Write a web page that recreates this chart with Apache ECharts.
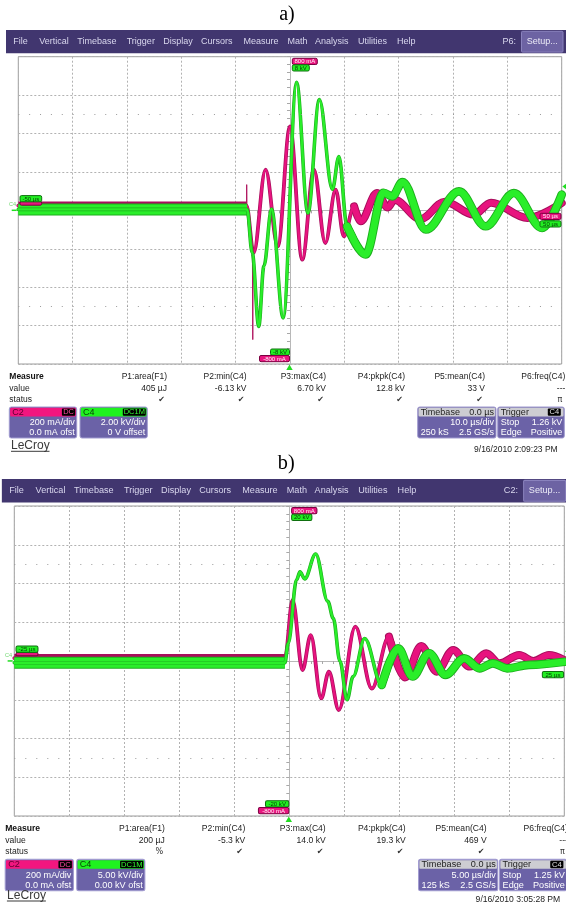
<!DOCTYPE html>
<html><head><meta charset="utf-8">
<script src="https://cdn.jsdelivr.net/npm/echarts/dist/echarts.min.js"></script>
<style>html,body{margin:0;padding:0;background:#fff}#c{width:566px;height:903px}</style>
</head><body><div id="c"></div>
<script>
// ---------------- DATA ----------------
// Panel a) : time in µs, C4 in kV, C2 in mA
const c4A = [[-50,0.05],[-30,0.05],[-7.9,0.05],[-6.96,-2.2],[-5.75,-6.04],[-4.8,-2.9],[-3.4,0.07],[-1.25,-5.6],[1.2,6.67],[3.3,-0.14],[5.4,5.77],[7.8,1.1],[9.0,2.8],[10.5,-0.83],[13.9,-2.3],[17.2,0.92],[18.8,0.73],[20.7,1.47],[25.0,-1.0],[31.1,0.99],[36.0,-0.83],[41.2,0.9],[46.4,-0.92],[50,0.82]];
const c2A = [[-50,25],[-30,25],[-8.0,25],[-6.7,-222],[-4.5,212],[-2.25,-187],[0,437],[2.25,-257],[4.4,212],[6.5,-170],[8.4,108],[9.9,-135],[11.8,21],[13.0,-57],[16.0,90],[18.0,15],[19.2,55],[24.0,-45],[28.5,45],[33.8,-22],[37.0,40],[43.7,-40],[50,38]];
const c2SpikesA = [[[-8.0,25],[-7.97,134],[-7.93,25]],[[-6.92,-200],[-6.85,-673],[-6.78,-210]]];
// Panel b)
const c4B = [[-25,-0.23],[-10,-0.23],[-0.4,-0.23],[-0.1,2.3],[0.67,10.5],[0.97,11.5],[1.4,10.6],[2.4,13.8],[3.5,7.7],[4.0,5.5],[4.6,0.0],[5.25,-5.0],[5.8,-2.0],[6.85,2.9],[8.4,-3.1],[9.9,1.64],[11.2,-2.0],[12.7,1.0],[14.2,-1.8],[15.9,0.35],[17.3,-0.95],[18.5,-0.3],[19.8,-0.95],[21.8,-0.5],[25,-0.1]];
const c2B = [[-25,15],[-10,15],[-0.4,15],[0.3,315],[1.2,-47],[1.95,134],[2.9,-193],[3.6,-55],[4.5,-253],[6.0,177],[7.5,-142],[9.06,126],[10.5,-85],[12.0,78],[13.4,-55],[14.9,57],[16.4,-29],[17.9,40],[19.1,-12],[20.9,31],[22.2,0],[23.6,31],[25,5]];

// Axis ranges (per division scales)
const timeA = {min:-50,max:50,interval:10};
const timeB = {min:-25,max:25,interval:5};
const voltA = {min:-8,max:8,interval:2};
const voltB = {min:-20,max:20,interval:5};
const curr  = {min:-800,max:800,interval:200};

// Texts
const menuItems = ['File','Vertical','Timebase','Trigger','Display','Cursors','Measure','Math','Analysis','Utilities','Help'];
const measureNames = ['P1:area(F1)','P2:min(C4)','P3:max(C4)','P4:pkpk(C4)','P5:mean(C4)','P6:freq(C4)'];
const valuesA = ['405 µJ','-6.13 kV','6.70 kV','12.8 kV','33 V','---'];
const statusA = ['✔','✔','✔','✔','✔','π'];
const valuesB = ['200 µJ','-5.3 kV','14.0 kV','19.3 kV','469 V','---'];
const statusB = ['%','✔','✔','✔','✔','π'];

// ---------------- LAYOUT / STYLE ----------------
const SANS = '"Liberation Sans", Arial, Helvetica, sans-serif';
const SERIF = '"Liberation Serif", "Times New Roman", serif';
const menuX = [13.3,39.3,77.3,126.7,163.3,201,243.5,287.5,315,358,397];
const colRight = [167,246.5,326,405,485,565.3];

function txt(x,y,s,o){o=o||{};const al=o.align||'left';
  return {type:'text',z:100,silent:true,style:{x:x,y:y,text:s,fill:o.fill||'#222',
    font:(o.weight?o.weight+' ':'')+(o.size||8.5)+'px '+(o.family||SANS),
    textAlign:al,align:al,textVerticalAlign:'middle',verticalAlign:'middle'}};}
function rect(x,y,w,h,fill,o){o=o||{};
  return {type:'rect',z:o.z||100,silent:true,shape:{x:x,y:y,width:w,height:h,r:o.r||0},style:{fill:fill,stroke:o.stroke||null,lineWidth:o.stroke?1:0}};}
function line(x1,y1,x2,y2,c,w){return {type:'line',z:100,silent:true,shape:{x1:x1,y1:y1,x2:x2,y2:y2},style:{stroke:c,lineWidth:w||1}};}
function poly(pts,fill){return {type:'polygon',z:100,silent:true,shape:{points:pts},style:{fill:fill}};}
function badge(E,x,y,w,s,kind,h){
  h=h||6.2;
  const g=kind==='g';
  E.push(rect(x,y,w,h,g?'#22ee22':'#e8157f',{stroke:g?'#0f6f0f':'#7a0040',r:1.5}));
  if(s) E.push(txt(x+w/2,y+h/2+0.3,s,{size:6,fill:g?'#064006':'#fff2f8',align:'center'}));
}
function box(E,x,w,head,rows){
  E.push(rect(x,407,w,31,'#6b62a7',{stroke:'#a19bd0',r:2}));
  E.push(rect(x+0.8,407.8,w-1.6,8.6,head.fill,{r:1.2}));
  E.push(txt(x+3,412.2,head.left,{size:9,fill:head.color}));
  if(head.badge){const b=head.badge;
    E.push(rect(x+w-b.w-b.m,408.4,b.w,7.4,'#000',{r:1}));
    E.push(txt(x+w-b.m-b.w/2,412.2,b.t,{size:7.5,fill:b.fill,align:'center'}));}
  if(head.right) E.push(txt(x+w-2,412.2,head.right,{size:9,fill:head.color,align:'right'}));
  rows.forEach(function(r,i){const y=423+i*9.8;
    if(r[0]) E.push(txt(x+3,y,r[0],{size:9,fill:'#ffffff'}));
    if(r[1]) E.push(txt(x+w-2,y,r[1],{size:9,fill:'#ffffff',align:'right'}));});
}
function chrome(P){
  const E=[];
  E.push(txt(287,15,P.title,{size:20,family:SERIF,fill:'#000',align:'center'}));
  E.push(rect(6,30,560,23.3,'#41366f'));
  menuItems.forEach(function(m,i){E.push(txt(menuX[i],41.8,m,{size:9,fill:'#d9d7ee'}));});
  E.push(txt(516,41.8,P.menuRight,{size:9,fill:'#d9d7ee',align:'right'}));
  E.push(rect(521.5,31.3,41.5,20.8,'#6d63a3',{stroke:'#8a82bd',r:1}));
  E.push(txt(542.2,41.8,'Setup...',{size:9,fill:'#ecebf7',align:'center'}));
  // plot annotations
  badge(E,292.3,58.3,25,'800 mA','m');
  badge(E,292.3,64.8,P.vTop.w,P.vTop.t,'g');
  badge(E,289.5-P.vBot.w,349,P.vBot.w,P.vBot.t,'g');
  badge(E,259.5,355.5,30,'-800 mA','m');
  badge(E,20,201.6,21.7,'','m',3.6);
  badge(E,20,195.6,21.7,P.tLeft,'g');
  if(P.rightMag) badge(E,540,213.3,21,P.tRight,'m');
  badge(E,540,220.8,21,P.tRight,'g');
  E.push(txt(12.6,204.6,'C4',{size:5.5,fill:'#6fd86f',align:'center'}));
  E.push(line(11.7,210.3,16.7,210.3,'#22dd22',1.5));
  E.push(poly([[286.3,370],[292.7,370],[289.5,364.6]],'#22dd22'));
  E.push(poly([[562.3,P.trigY],[566.5,P.trigY-3.2],[566.5,P.trigY+3.2]],'#22dd22'));
  // measurement table
  E.push(txt(9.3,377,'Measure',{size:8.5,weight:'bold',fill:'#111'}));
  E.push(txt(9.3,388.3,'value',{size:8.5}));
  E.push(txt(9.3,399.7,'status',{size:8.5}));
  measureNames.forEach(function(m,i){const xr=colRight[i];
    E.push(txt(xr,377,m,{size:8.5,align:'right'}));
    E.push(txt(xr,388.3,P.values[i],{size:8.5,align:'right'}));
    E.push(txt(xr-5.5,399.9,P.status[i],{size:8,family:'"DejaVu Sans", sans-serif',align:'center',fill:'#333'}));});
  box(E,9.3,67.4,{fill:'#f2167f',left:'C2',color:'#5c0030',badge:{w:13.3,m:1.5,t:'DC',fill:'#ff4aa3'}},P.c2Rows);
  box(E,80,67.3,{fill:'#1ff21f',left:'C4',color:'#0a430a',badge:{w:23,m:1.5,t:'DC1M',fill:'#33ff33'}},P.c4Rows);
  box(E,417.7,78.3,{fill:'#cdcdd2',left:'Timebase',right:P.tbHead,color:'#1e1e1e'},P.tbRows);
  box(E,497.7,66.6,{fill:'#cdcdd2',left:'Trigger',color:'#1e1e1e',badge:{w:13,m:3.5,t:'C4',fill:'#e0e0e0'}},P.trRows);
  E.push(txt(11,445.5+P.footDy,'LeCroy',{size:12,fill:'#3a3a3a'}));
  E.push(line(11,451.3+P.footDy,49.5,451.3+P.footDy,'#3a3a3a',1));
  E.push(txt(557.7,450+P.footDy,P.date,{size:8.5,align:'right'}));
  return {type:'group',x:P.gx,y:P.gy,scaleX:P.sx,scaleY:P.sy,children:E};
}

const panelA = {title:'a)',gx:0,gy:0,sx:1,sy:1,menuRight:'P6:',footDy:0,
  vTop:{w:17,t:'8 kV'},vBot:{w:19,t:'-8 kV'},tLeft:'-50 µs',tRight:'50 µs',rightMag:true,trigY:186.5,
  values:valuesA,status:statusA,
  c2Rows:[['','200 mA/div'],['','0.0 mA ofst']],
  c4Rows:[['','2.00 kV/div'],['','0 V offset']],
  tbHead:'0.0 µs',tbRows:[['','10.0 µs/div'],['250 kS','2.5 GS/s']],
  trRows:[['Stop','1.26 kV'],['Edge','Positive']],
  date:'9/16/2010 2:09:23 PM'};
const panelB = {title:'b)',gx:-4.222,gy:448.8,sx:1.01215,sy:1.00879,menuRight:'C2:',footDy:-3,
  vTop:{w:20,t:'20 kV'},vBot:{w:23,t:'-20 kV'},tLeft:'-25 µs',tRight:'25 µs',rightMag:false,trigY:200.7,
  values:valuesB,status:statusB,
  c2Rows:[['','200 mA/div'],['','0.0 mA ofst']],
  c4Rows:[['','5.00 kV/div'],['','0.00 kV ofst']],
  tbHead:'0.0 µs',tbRows:[['','5.00 µs/div'],['125 kS','2.5 GS/s']],
  trRows:[['Stop','1.25 kV'],['Edge','Positive']],
  date:'9/16/2010 3:05:28 PM'};

// ---------------- AXES ----------------
const gridLine = {show:true,lineStyle:{color:'#b2b2b2',type:[2,2],width:1}};
function xAx(g,r){return Object.assign({type:'value',gridIndex:g,axisLabel:{show:false},splitLine:gridLine,
  axisLine:{show:true,onZero:true,lineStyle:{color:'#b8b8b8',width:1}},
  axisTick:{show:true,length:3,lineStyle:{color:'#a8a8a8'}},
  minorTick:{show:true,splitNumber:5,length:3,lineStyle:{color:'#a8a8a8'}},splitArea:{show:false}},r);}
function yAx(g,r){return Object.assign({type:'value',gridIndex:g,axisLabel:{show:false},splitLine:gridLine,
  axisLine:{show:true,onZero:true,lineStyle:{color:'#b8b8b8',width:1}},
  axisTick:{show:true,length:3,lineStyle:{color:'#a8a8a8'}},
  minorTick:{show:true,splitNumber:5,length:3,lineStyle:{color:'#a8a8a8'}}},r);}
function hiddenY(g,r){return Object.assign({type:'value',gridIndex:g,show:false,splitLine:{show:false}},r);}

// ---------------- SERIES ----------------
const MAG='#e8137f', MAGD='#a80e5c', GRN='#2aee2a', GRND='#1cae1c';
function tr(data,xi,yi,color,width,opt){opt=opt||{};
  return Object.assign({type:'line',xAxisIndex:xi,yAxisIndex:yi,data:data,symbol:'none',showSymbol:false,
    smooth:opt.smooth===undefined?0.35:opt.smooth,smoothMonotone:'x',silent:true,animation:false,
    lineStyle:{color:color,width:width,cap:opt.cap||'round',join:'round'},emphasis:{disabled:true}},opt.extra||{});}
function dotRow(period){return {silent:true,symbol:['none','none'],label:{show:false},emphasis:{disabled:true},animation:false,
  lineStyle:{color:'#9a9a9a',type:[1,period-1],width:1},data:[{yAxis:500},{yAxis:-500}]};}
function panelSeries(c2,c4,spikes,xi,yC4,yC2,tailC2,tailC4,period){
  const S=[];
  S.push(tr(c2.slice(0,3),xi,yC2,MAGD,8,{cap:'butt',extra:{markLine:dotRow(period)}}));
  S.push(tr(c2.filter(p=>p[0]>=tailC2),xi,yC2,MAGD,8));
  S.push(tr(c2,xi,yC2,MAGD,3.8));
  S.push(tr(c2.filter(p=>p[0]>=tailC2),xi,yC2,MAG,6));
  S.push(tr(c2,xi,yC2,MAG,2.4));
  spikes.forEach(s=>S.push(tr(s,xi,yC2,'#b0145f',1,{smooth:false,cap:'butt'})));
  S.push(tr(c4.slice(0,3),xi,yC4,GRND,12,{cap:'butt'}));
  S.push(tr(c4.slice(0,3),xi,yC4,GRN,10,{cap:'butt'}));
  S.push(tr(c4.filter(p=>p[0]>=tailC4),xi,yC4,GRND,8.6));
  S.push(tr(c4,xi,yC4,GRND,3.6));
  S.push(tr(c4.filter(p=>p[0]>=tailC4),xi,yC4,GRN,6.8));
  S.push(tr(c4,xi,yC4,GRN,2.4));
  return S;
}

const option = {
  backgroundColor:'#ffffff',
  animation:false,
  grid:[
    {left:18.3,top:56.7,width:543.4,height:307.3,show:true,borderColor:'#9c9c9c',borderWidth:1,backgroundColor:'transparent'},
    {left:14.3,top:506,width:550,height:310,show:true,borderColor:'#9c9c9c',borderWidth:1,backgroundColor:'transparent'}
  ],
  xAxis:[xAx(0,timeA),xAx(1,timeB)],
  yAxis:[yAx(0,voltA),hiddenY(0,curr),yAx(1,voltB),hiddenY(1,curr)],
  series:[].concat(
    panelSeries(c2A,c4A,c2SpikesA,0,0,1,11.8,10.5,10.868),
    panelSeries(c2B,c4B,[],1,2,3,9.06,8.4,11.0)
  ),
  graphic:{elements:[chrome(panelA),chrome(panelB)]}
};
const chart = echarts.init(document.getElementById('c'),null,{renderer:'canvas'});
chart.setOption(option);
</script>
</body></html>
